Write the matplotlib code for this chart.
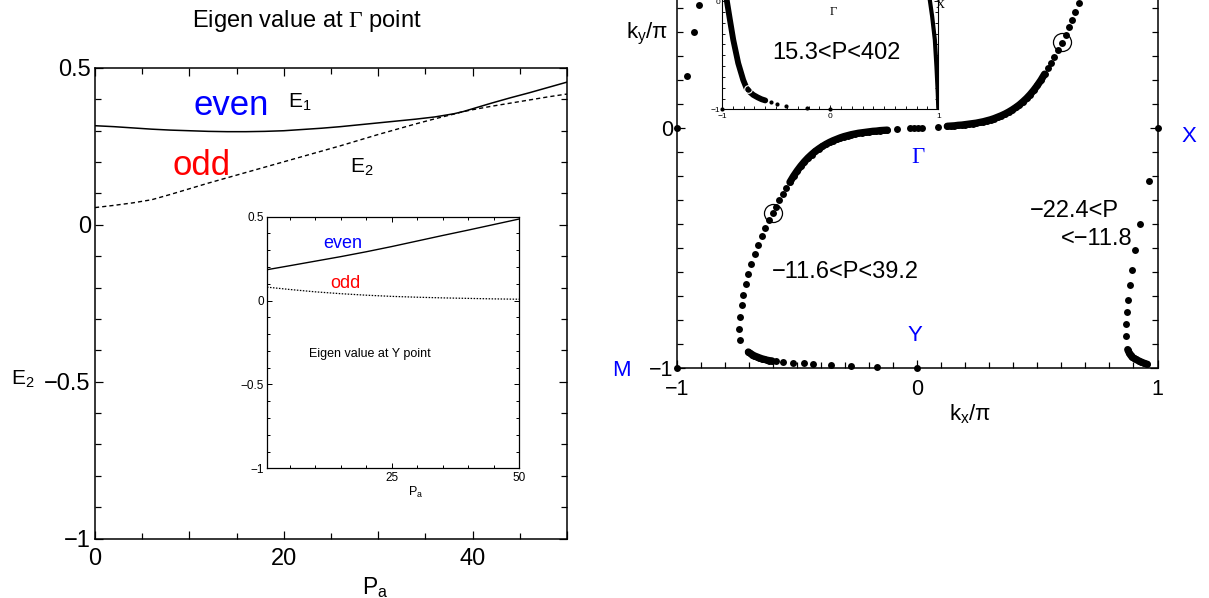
import matplotlib
matplotlib.use('Agg')
import matplotlib.pyplot as plt
from matplotlib.ticker import MultipleLocator

plt.rcParams['font.family'] = ['Liberation Sans', 'DejaVu Sans']
plt.rcParams['mathtext.fontset'] = 'custom'
plt.rcParams['mathtext.rm'] = 'Liberation Sans'
plt.rcParams['mathtext.it'] = 'Liberation Sans:italic'
plt.rcParams['mathtext.sf'] = 'Liberation Serif'
plt.rcParams['mathtext.bf'] = 'Liberation Sans:bold'
plt.rcParams['axes.unicode_minus'] = True

# ---------------- data: left panel (eigen values at Gamma) ----------------
P_main = [0, 2, 4, 6, 8, 10, 12, 14, 16, 18, 20, 22, 24, 26, 28, 30, 32, 34, 36, 38, 39, 40, 42, 44, 46, 48, 50]
E_even = [0.316, 0.313, 0.309, 0.305, 0.302, 0.300, 0.298, 0.297, 0.297, 0.298, 0.300, 0.304, 0.308,
          0.313, 0.319, 0.325, 0.331, 0.337, 0.344, 0.354, 0.361, 0.370, 0.388, 0.405, 0.421, 0.438, 0.455]
E_odd = [0.055, 0.062, 0.070, 0.080, 0.097, 0.115, 0.133, 0.150, 0.167, 0.184, 0.201, 0.218, 0.235,
         0.252, 0.270, 0.288, 0.305, 0.322, 0.338, 0.353, 0.361, 0.367, 0.378, 0.388, 0.398, 0.408, 0.417]

# inset: eigen values at Y point
P_in = [0.5, 5, 10, 15, 20, 25, 30, 35, 40, 45, 50]
Y_even = [0.184, 0.208, 0.235, 0.262, 0.291, 0.322, 0.355, 0.388, 0.420, 0.453, 0.486]
Y_odd = [0.080, 0.066, 0.052, 0.041, 0.032, 0.025, 0.020, 0.016, 0.013, 0.010, 0.008]

# ---------------- data: right panel (k-space trajectories) ----------------
# branch -11.6<P<39.2 : sparse lower-left part
S1_kx = [-0.7375, -0.740, -0.7375, -0.730, -0.725, -0.714, -0.704, -0.690, -0.677, -0.661, -0.647,
         -0.633, -0.615, -0.599, -0.587, -0.574, -0.560, -0.546]
S1_ky = [-0.883, -0.835, -0.786, -0.738, -0.694, -0.649, -0.608, -0.564, -0.525, -0.488, -0.450,
         -0.414, -0.381, -0.353, -0.327, -0.300, -0.275, -0.251]
# dense part (left of Gamma)
D1_kx = [-0.530, -0.515, -0.500, -0.485, -0.470, -0.455, -0.440, -0.425, -0.410, -0.395, -0.380,
         -0.365, -0.350, -0.335, -0.320, -0.305, -0.290, -0.275, -0.260, -0.245, -0.230, -0.215,
         -0.200, -0.185, -0.170, -0.155, -0.140, -0.125]
D1_ky = [-0.225, -0.200, -0.178, -0.158, -0.140, -0.124, -0.110, -0.097, -0.086, -0.076, -0.067,
         -0.059, -0.052, -0.046, -0.040, -0.035, -0.031, -0.027, -0.024, -0.021, -0.019, -0.017,
         -0.015, -0.013, -0.012, -0.010, -0.009, -0.008]
# sparse points around Gamma
S2_kx = [-0.085, -0.029, -0.0125, 0.003, 0.019, 0.086]
S2_ky = [-0.004, -0.001, -0.001, 0.000, 0.001, 0.005]
# dense part (right of Gamma)
D2_kx = [0.125, 0.140, 0.155, 0.170, 0.185, 0.200, 0.215, 0.230, 0.245, 0.260, 0.275, 0.290, 0.305,
         0.320, 0.335, 0.350, 0.365, 0.380, 0.395, 0.410, 0.425, 0.440, 0.455, 0.470, 0.485, 0.500,
         0.515, 0.530]
D2_ky = [0.008, 0.009, 0.010, 0.012, 0.013, 0.015, 0.017, 0.019, 0.021, 0.024, 0.027, 0.031, 0.035,
         0.040, 0.046, 0.052, 0.059, 0.067, 0.076, 0.086, 0.097, 0.110, 0.124, 0.140, 0.158, 0.178,
         0.200, 0.225]
# sparse upper-right part
S3_kx = [0.543, 0.557, 0.571, 0.585, 0.603, 0.620, 0.631, 0.645, 0.658, 0.672]
S3_ky = [0.249, 0.270, 0.295, 0.325, 0.356, 0.388, 0.422, 0.450, 0.485, 0.520]

# branch along the bottom edge (towards Y)
B_dense_kx = [-0.703, -0.695, -0.687, -0.678, -0.668, -0.658, -0.647, -0.636, -0.625, -0.615, -0.605]
B_dense_ky = [-0.932, -0.938, -0.943, -0.948, -0.952, -0.956, -0.960, -0.963, -0.966, -0.968, -0.969]
B_kx = [-0.5875, -0.557, -0.518, -0.470, -0.432, -0.360, -0.275, -0.168, 0.0]
B_ky = [-0.971, -0.975, -0.978, -0.980, -0.982, -0.986, -0.990, -0.996, -1.0]

# branch -22.4<P<-11.8 (near kx = 1)
R_kx = [0.964, 0.929, 0.908, 0.894, 0.884, 0.878, 0.874, 0.870, 0.870]
R_ky = [-0.219, -0.400, -0.508, -0.589, -0.654, -0.714, -0.765, -0.817, -0.867]
R_dense_kx = [0.876, 0.882, 0.888, 0.894, 0.902, 0.910, 0.922, 0.933, 0.945, 0.957]
R_dense_ky = [-0.922, -0.935, -0.945, -0.953, -0.958, -0.963, -0.969, -0.974, -0.979, -0.983]

# branch near kx = -1 (upper left)
L_kx = [-1.0, -0.960, -0.928, -0.907]
L_ky = [0.0, 0.217, 0.401, 0.5125]

# symmetry points
Pt_kx = [1.0, -1.0]
Pt_ky = [0.0, -1.0]

# circled points
C_kx = [-0.601, 0.603]
C_ky = [-0.353, 0.358]

# inset (15.3<P<402)
I1_kx = [-0.957, -0.927, -0.896, -0.850, -0.804, -0.773, -0.740, -0.711, -0.670, -0.634, -0.600]
I1_ky = [0.015, -0.170, -0.356, -0.573, -0.728, -0.805, -0.842, -0.867, -0.890, -0.907, -0.918]
I1s_kx = [-0.547, -0.495, -0.408, -0.216, 0.0, -1.0]
I1s_ky = [-0.935, -0.948, -0.969, -0.985, -1.0, -1.0]
I2_kx = [0.921, 0.943, 0.968, 0.983, 0.995, 1.0]
I2_ky = [0.015, -0.139, -0.356, -0.604, -0.851, -0.990]
IC_kx = [-0.757]
IC_ky = [-0.814]

# tick labels
L_xticks = [0, 10, 20, 30, 40, 50]
L_xlabels = ['0', '', '20', '', '40', '']
L_yticks = [-1, -0.5, 0, 0.5]
L_ylabels = ['\u22121', '\u22120.5', '0', '0.5']
Li_xticks = [25, 50]
Li_xlabels = ['25', '50']
R_ticks = [-1, 0, 1]
R_labels = ['\u22121', '0', '1']

# ---------------- figure ----------------
W, H = 1209, 598
fig = plt.figure(figsize=(W / 100, H / 100), dpi=100)


def px_axes(x0, y0, x1, y1):
    return fig.add_axes([x0 / W, 1 - y1 / H, (x1 - x0) / W, (y1 - y0) / H])


def ftext(x, y, s, **kw):
    kw.setdefault('ha', 'center')
    kw.setdefault('va', 'baseline')
    return fig.text(x / W, 1 - y / H, s, **kw)


def style(ax, maj, mnr, lw, size, xpad, ypad):
    ax.tick_params(which='both', direction='in', top=True, right=True, width=lw * 0.8)
    ax.tick_params(which='major', length=maj, labelsize=size)
    ax.tick_params(which='minor', length=mnr)
    ax.tick_params(axis='x', which='major', pad=xpad)
    ax.tick_params(axis='y', which='major', pad=ypad)
    for s in ax.spines.values():
        s.set_linewidth(lw)


# ---- left main ----
axL = px_axes(95, 68, 567, 538.5)
axL.plot(P_main, E_even, color='black', lw=1.1)
axL.plot(P_main, E_odd, color='black', lw=1.0, ls=(0, (3, 2.2)))
axL.set_xlim(0, 50)
axL.set_ylim(-1, 0.5)
axL.set_xticks(L_xticks, L_xlabels)
axL.set_yticks(L_yticks, L_ylabels)
axL.xaxis.set_minor_locator(MultipleLocator(5))
axL.yaxis.set_minor_locator(MultipleLocator(0.1))
style(axL, 6, 4.3, 1.1, 17, 6.5, 3)

ftext(307, 27, 'Eigen value at $\\mathsf{\\Gamma}$ point', fontsize=17)
ftext(231, 115, 'even', color='#0000ff', fontsize=25)
ftext(202, 175, 'odd', color='#ff0000', fontsize=25)
ftext(288, 108, 'E$_1$', fontsize=15, ha='left')
ftext(350, 173, 'E$_2$', fontsize=15, ha='left')
ftext(11, 385, 'E$_2$', fontsize=15, ha='left')
ftext(362, 594, 'P$_\\mathrm{a}$', fontsize=16.5, ha='left')

# ---- left inset ----
axLi = px_axes(267, 216.7, 519, 468.3)
axLi.plot(P_in, Y_even, color='black', lw=1.0)
axLi.plot(P_in, Y_odd, color='black', lw=0.9, ls=(0, (1.2, 1.2)))
axLi.set_xlim(0.5, 50)
axLi.set_ylim(-1, 0.5)
axLi.set_xticks(Li_xticks, Li_xlabels)
axLi.set_yticks(L_yticks, L_ylabels)
axLi.xaxis.set_minor_locator(MultipleLocator(5))
axLi.yaxis.set_minor_locator(MultipleLocator(0.1))
style(axLi, 3.5, 2.5, 0.9, 8.5, 3, 2)
ftext(343, 248.5, 'even', color='#0000ff', fontsize=13)
ftext(345, 288, 'odd', color='#ff0000', fontsize=13)
ftext(370, 357, 'Eigen value at Y point', fontsize=9)
ftext(416, 496, 'P$_\\mathrm{a}$', fontsize=9)

# ---- right main ----
axR = px_axes(677, -112, 1157.5, 368.3)
ms = 5.0
dense_lw = 5.2
for kx, ky in [(S1_kx, S1_ky), (S2_kx, S2_ky), (S3_kx, S3_ky), (B_kx, B_ky), (R_kx, R_ky),
               (L_kx, L_ky), (Pt_kx, Pt_ky)]:
    axR.plot(kx, ky, 'o', color='black', ms=ms, mew=0, clip_on=False)
for kx, ky in [(D1_kx, D1_ky), (D2_kx, D2_ky), (B_dense_kx, B_dense_ky), (R_dense_kx, R_dense_ky)]:
    axR.plot(kx, ky, '-', color='black', lw=dense_lw, solid_capstyle='round')
    axR.plot(kx, ky, 'o', color='black', ms=ms, mew=0)
axR.plot(C_kx, C_ky, 'o', ms=13, mfc='none', mec='black', mew=0.9)
axR.set_xlim(-1, 1)
axR.set_ylim(-1, 1)
axR.set_xticks(R_ticks, R_labels)
axR.set_yticks(R_ticks, R_labels)
axR.xaxis.set_minor_locator(MultipleLocator(0.1))
axR.yaxis.set_minor_locator(MultipleLocator(0.1))
style(axR, 6, 4.5, 1.1, 15.5, 8, 3)

ftext(626, 38.3, 'k$_\\mathrm{y}$/\u03c0', fontsize=16, ha='left')
ftext(948.6, 420, 'k$_\\mathrm{x}$/\u03c0', fontsize=16, ha='left')
ftext(917.5, 163, '\u0393', color='#0000ff', fontsize=16.5, family=['Liberation Serif'])
ftext(1188.6, 141.7, 'X', color='#0000ff', fontsize=16)
ftext(915, 340.7, 'Y', color='#0000ff', fontsize=16)
ftext(621.4, 375.7, 'M', color='#0000ff', fontsize=16)
ftext(845, 278.5, '\u221211.6<P<39.2', fontsize=17)
ftext(1119, 216.7, '\u221222.4<P', fontsize=17, ha='right')
ftext(1132, 245, '<\u221211.8', fontsize=17, ha='right')

# ---- right inset ----
axRi = px_axes(722, -106.7, 938.3, 109.3)
axRi.plot(I1_kx, I1_ky, '-', color='black', lw=4.2, solid_capstyle='round')
axRi.plot(I2_kx, I2_ky, '-', color='black', lw=3.0, solid_capstyle='round')
axRi.plot(I1s_kx, I1s_ky, 'o', color='black', ms=3.0, mew=0, clip_on=False)
axRi.plot(IC_kx, IC_ky, 'o', ms=5.5, mfc='none', mec='white', mew=0.8)
axRi.set_xlim(-1, 1)
axRi.set_ylim(-1, 1)
axRi.set_xticks(R_ticks, R_labels)
axRi.set_yticks(R_ticks, R_labels)
axRi.xaxis.set_minor_locator(MultipleLocator(0.1))
axRi.yaxis.set_minor_locator(MultipleLocator(0.1))
style(axRi, 3, 2, 0.8, 6, 3, 1.5)
ftext(836.7, 59.3, '15.3<P<402', fontsize=17)
ftext(833, 15, '\u0393', fontsize=9, family=['Liberation Serif'])
ftext(940.5, 8.3, 'X', fontsize=9, family=['Liberation Serif'])

fig.savefig('out.png', dpi=100)
